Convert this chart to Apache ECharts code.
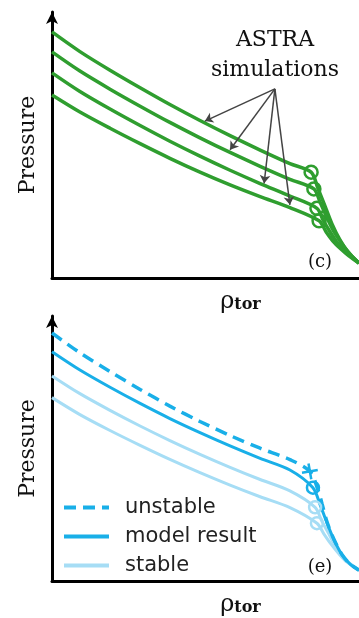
<!DOCTYPE html>
<html>
<head>
<meta charset="utf-8">
<script src="https://cdn.jsdelivr.net/npm/echarts@6/dist/echarts.min.js"></script>
<style>
  html, body { margin: 0; padding: 0; background: #fff; }
  #chart { width: 359px; height: 618px; }
</style>
</head>
<body>
<div id="chart"></div>
<script>
// normalised radius (rho_tor) and pressure
var rhoCore = [0, 0.091, 0.189, 0.287, 0.384, 0.482, 0.580, 0.678, 0.775];

// panel (c): four ASTRA runs, core part then pedestal drop (first edge point = circle)
var astraCore = [
    [0.925, 0.851, 0.781, 0.715, 0.652, 0.592, 0.535, 0.481, 0.430],
    [0.850, 0.778, 0.710, 0.646, 0.585, 0.527, 0.472, 0.420, 0.371],
    [0.771, 0.701, 0.635, 0.573, 0.514, 0.458, 0.405, 0.355, 0.308],
    [0.688, 0.624, 0.563, 0.505, 0.450, 0.398, 0.350, 0.306, 0.265]
];
var astraEdgeRho = [
    [0.844, 0.866, 0.889, 0.912, 0.938, 0.964, 1.0],
    [0.853, 0.873, 0.896, 0.919, 0.945, 0.971, 1.0],
    [0.863, 0.883, 0.906, 0.928, 0.954, 1.0],
    [0.870, 0.893, 0.915, 0.941, 0.967, 1.0]
];
var astraEdgeP = [
    [0.398, 0.338, 0.271, 0.203, 0.143, 0.098, 0.056],
    [0.335, 0.286, 0.226, 0.173, 0.128, 0.090, 0.056],
    [0.262, 0.218, 0.173, 0.135, 0.102, 0.056],
    [0.215, 0.173, 0.139, 0.109, 0.083, 0.056]
];
var arrowFrom = [0.726, 0.711];
var arrowTips = [[0.498, 0.590], [0.580, 0.482], [0.691, 0.356], [0.775, 0.275]];

// panel (e)
var unstableP = [0.936, 0.861, 0.790, 0.723, 0.660, 0.602, 0.549, 0.501, 0.458];
var unstableEdgeRho = [0.840, 0.866, 0.880, 0.896, 0.919, 0.945, 0.971, 1.0];
var unstableEdgeP = [0.414, 0.345, 0.290, 0.222, 0.156, 0.099, 0.064, 0.041];

var modelP = [0.865, 0.796, 0.731, 0.670, 0.613, 0.560, 0.510, 0.463, 0.419];
var modelEdgeRho = [0.850, 0.873, 0.896, 0.919, 0.945, 0.971, 1.0];
var modelEdgeP = [0.352, 0.289, 0.218, 0.154, 0.098, 0.064, 0.041];

var stableP = [
    [0.774, 0.707, 0.644, 0.585, 0.530, 0.478, 0.429, 0.383, 0.340],
    [0.692, 0.628, 0.568, 0.512, 0.459, 0.409, 0.362, 0.318, 0.277]
];
var stableEdgeRho = [
    [0.857, 0.879, 0.902, 0.925, 0.951, 1.0],
    [0.863, 0.886, 0.909, 0.935, 0.961, 1.0]
];
var stableEdgeP = [
    [0.278, 0.226, 0.177, 0.128, 0.086, 0.041],
    [0.218, 0.177, 0.139, 0.102, 0.071, 0.041]
];

var green = '#2f9e2f';
var blue = '#19afe8';
var lightBlue = '#a6ddf5';
var serif = 'DejaVu Serif';

function profile(core, edgeRho, edgeP) {
    var pts = rhoCore.map(function (r, i) { return [r, core[i]]; });
    return pts.concat(edgeRho.map(function (r, j) { return [r, edgeP[j]]; }));
}

function axesFor(idx) {
    return {
        x: {
            type: 'value', gridIndex: idx, min: 0, max: 1,
            name: '{r|ρ}{s|tor}', nameLocation: 'middle', nameGap: 12,
            nameTextStyle: {
                padding: [0, 0, 0, 70],
                rich: {
                    r: { fontFamily: serif, fontSize: 24, color: '#111' },
                    s: { fontFamily: serif, fontSize: 16, fontWeight: 'bold', color: '#111', padding: [6, 0, 0, 0] }
                }
            },
            axisLine: { lineStyle: { color: '#000', width: 3 } },
            axisTick: { show: false }, axisLabel: { show: false }, splitLine: { show: false }
        },
        y: {
            type: 'value', gridIndex: idx, min: 0, max: 1,
            name: 'Pressure', nameLocation: 'middle', nameGap: 13,
            nameTextStyle: { fontFamily: serif, fontSize: 22, color: '#111' },
            axisLine: { show: true, symbol: ['none', 'arrow'], symbolSize: [9, 12],
                        lineStyle: { color: '#000', width: 3 } },
            axisTick: { show: false }, axisLabel: { show: false }, splitLine: { show: false }
        }
    };
}

var chart = echarts.init(document.getElementById('chart'));
var a0 = axesFor(0), a1 = axesFor(1);

function lineSeries(name, grid, data, style) {
    return {
        name: name, type: 'line', xAxisIndex: grid, yAxisIndex: grid,
        data: data, smooth: 0.3, symbol: 'none',
        lineStyle: style, itemStyle: { color: style.color }
    };
}

function markers(grid, data, color, symbol, size) {
    return {
        type: 'scatter', xAxisIndex: grid, yAxisIndex: grid, data: data,
        symbol: symbol, symbolSize: size, z: 4,
        itemStyle: { color: 'rgba(0,0,0,0)', borderColor: color, borderWidth: 2.5, opacity: 1 }
    };
}

var series = [];

astraCore.forEach(function (core, k) {
    var s = lineSeries('ASTRA', 0, profile(core, astraEdgeRho[k], astraEdgeP[k]), { color: green, width: 3.5 });
    if (k === 0) {
        s.markLine = {
            silent: true, symbol: ['none', 'arrow'], symbolSize: 8,
            label: { show: false },
            lineStyle: { color: '#444', width: 1.5, type: 'solid' },
            data: arrowTips.map(function (t) { return [{ coord: arrowFrom }, { coord: t }]; })
        };
    }
    series.push(s);
});
series.push(markers(0, astraEdgeRho.map(function (r, k) { return [r[0], astraEdgeP[k][0]]; }), green, 'circle', 13));

stableP.forEach(function (core, k) {
    series.push(lineSeries('stable', 1, profile(core, stableEdgeRho[k], stableEdgeP[k]), { color: lightBlue, width: 3 }));
});
series.push(markers(1, stableEdgeRho.map(function (r, k) { return [r[0], stableEdgeP[k][0]]; }), lightBlue, 'circle', 12));

series.push(lineSeries('unstable', 1, profile(unstableP, unstableEdgeRho, unstableEdgeP), { color: blue, width: 3.5, type: [12, 7] }));
var cross = markers(1, [[unstableEdgeRho[0], unstableEdgeP[0]]], blue, 'path://M0,5 L10,5 M5,0 L5,10', 16);
cross.symbolRotate = 10;
series.push(cross);

series.push(lineSeries('model result', 1, profile(modelP, modelEdgeRho, modelEdgeP), { color: blue, width: 3 }));
series.push(markers(1, [[modelEdgeRho[0], modelEdgeP[0]]], blue, 'circle', 12));

var option = {
    backgroundColor: '#fff',
    animation: false,
    title: [
        { text: 'ASTRA\nsimulations', left: 275, top: 25, textAlign: 'center', padding: 0,
          textStyle: { fontFamily: serif, fontSize: 22, fontWeight: 'normal', color: '#111', lineHeight: 30 } },
        { text: '(c)', left: 320, top: 253, textAlign: 'center', padding: 0,
          textStyle: { fontFamily: serif, fontSize: 18, fontWeight: 'normal', color: '#111' } },
        { text: '(e)', left: 320, top: 558, textAlign: 'center', padding: 0,
          textStyle: { fontFamily: serif, fontSize: 18, fontWeight: 'normal', color: '#111' } }
    ],
    legend: {
        orient: 'vertical', left: 62, top: 497, padding: 0,
        data: ['unstable', 'model result', 'stable'],
        itemWidth: 45, itemHeight: 14, itemGap: 8,
        selectedMode: false,
        itemStyle: { color: 'rgba(0,0,0,0)', borderWidth: 0, opacity: 0 },
        lineStyle: { width: 4 },
        textStyle: { fontFamily: 'DejaVu Sans', fontSize: 21, color: '#222', padding: [0, 0, 0, 11] }
    },
    grid: [
        { left: 52, right: 0, top: 12, height: 266 },
        { left: 52, right: 0, top: 316, height: 266 }
    ],
    xAxis: [a0.x, a1.x],
    yAxis: [a0.y, a1.y],
    series: series
};

chart.setOption(option);
window.addEventListener('resize', function () {
    chart.resize();
});
</script>
</body>
</html>
